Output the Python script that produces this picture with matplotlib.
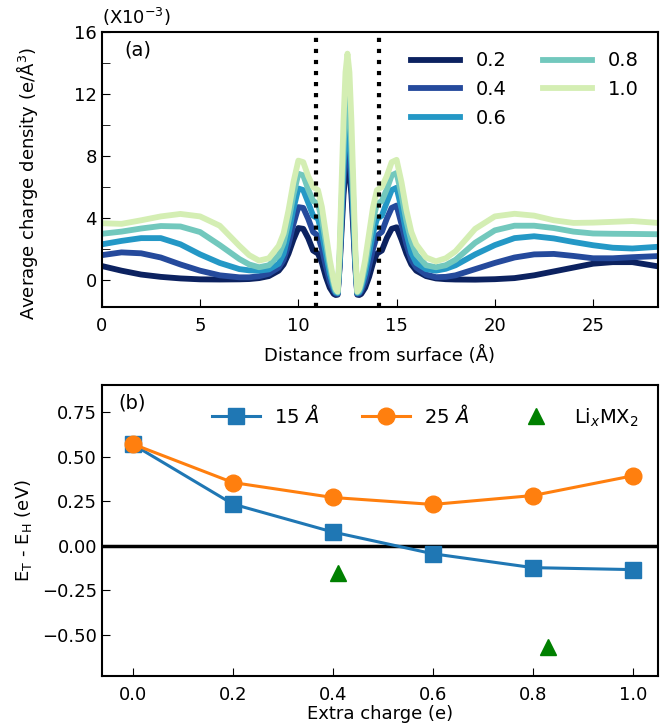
import matplotlib
matplotlib.use('Agg')
import matplotlib.pyplot as plt

# panel (a): average charge density vs distance (x 1e-3 e/A^3)
dist = [0, 1, 2, 3, 4, 5, 6, 7, 7.5, 8, 8.5, 9, 9.25, 9.5, 9.75, 10, 10.25, 10.5, 10.75, 11,
        11.2, 11.4, 11.6, 11.8, 11.9, 12, 12.1, 12.2, 12.3, 12.4, 12.5, 12.6, 12.7, 12.8, 12.9, 13,
        13.1, 13.2, 13.4, 13.6, 13.8, 14, 14.25, 14.5, 14.75, 15, 15.25, 15.5, 15.75, 16, 16.5, 17,
        17.5, 18, 19, 20, 21, 22, 23, 24, 25, 26, 27, 28.3]

rho_02 = [0.9, 0.6, 0.35, 0.2, 0.1, 0.04, 0.03, 0.04, 0.06, 0.12, 0.25, 0.6, 1.0, 1.7, 2.6, 3.35, 3.3, 2.7, 1.9, 1.7,
          1.1, 0.2, -0.5, -0.9, -0.97, -0.95, 0.8, 3.2, 5.5, 7.0, 7.5, 7.0, 5.5, 3.2, 0.8, -0.95,
          -0.97, -0.9, -0.5, 0.2, 1.1, 1.7, 1.9, 2.7, 3.3, 3.4, 2.6, 1.7, 1.0, 0.6, 0.25, 0.1,
          0.05, 0.03, 0.02, 0.05, 0.12, 0.3, 0.55, 0.8, 1.05, 1.15, 1.15, 0.88]
rho_04 = [1.6, 1.78, 1.72, 1.45, 1.0, 0.6, 0.3, 0.17, 0.17, 0.24, 0.4, 0.8, 1.3, 2.3, 3.6, 4.7, 4.65, 3.95, 3.1, 2.85,
          2.0, 0.9, -0.1, -0.7, -0.88, -0.9, 1.0, 3.7, 6.3, 8.2, 8.8, 8.2, 6.3, 3.7, 1.0, -0.9,
          -0.88, -0.7, -0.1, 0.9, 2.0, 2.85, 3.1, 3.95, 4.65, 4.8, 3.6, 2.3, 1.3, 0.8, 0.35, 0.18,
          0.2, 0.3, 0.7, 1.1, 1.45, 1.65, 1.68, 1.55, 1.4, 1.4, 1.47, 1.54]
rho_06 = [2.3, 2.52, 2.7, 2.7, 2.3, 1.65, 1.1, 0.7, 0.62, 0.6, 0.68, 1.05, 1.7, 3.0, 4.6, 5.9, 5.8, 5.0, 4.15, 3.95,
          3.0, 1.7, 0.4, -0.5, -0.8, -0.85, 1.2, 4.3, 7.3, 9.3, 10.0, 9.3, 7.3, 4.3, 1.2, -0.85,
          -0.8, -0.5, 0.4, 1.7, 3.0, 3.95, 4.15, 5.0, 5.8, 5.95, 4.6, 3.0, 1.75, 1.1, 0.7, 0.6,
          0.72, 0.95, 1.65, 2.25, 2.7, 2.82, 2.68, 2.45, 2.24, 2.08, 2.03, 2.14]
rho_08 = [2.98, 3.12, 3.32, 3.48, 3.45, 3.09, 2.25, 1.35, 1.0, 0.82, 0.95, 1.6, 2.4, 3.8, 5.5, 6.85, 6.75, 5.85, 5.1, 4.9,
          3.9, 2.4, 0.9, -0.3, -0.7, -0.8, 1.5, 5.0, 8.5, 11.0, 11.9, 11.0, 8.5, 5.0, 1.5, -0.8,
          -0.7, -0.3, 0.9, 2.4, 3.9, 4.9, 5.1, 5.85, 6.75, 6.9, 5.5, 3.8, 2.5, 1.65, 0.95, 0.82,
          0.95, 1.3, 2.4, 3.2, 3.5, 3.5, 3.35, 3.12, 3.0, 2.98, 2.97, 2.95]
rho_10 = [3.66, 3.62, 3.85, 4.1, 4.26, 4.1, 3.5, 2.2, 1.6, 1.25, 1.4, 2.2, 3.0, 4.5, 6.3, 7.7, 7.6, 6.7, 6.0, 5.8,
          4.7, 3.0, 1.3, -0.05, -0.55, -0.75, 2.0, 6.2, 10.3, 13.4, 14.6, 13.4, 10.3, 6.2, 2.0, -0.75,
          -0.55, -0.05, 1.3, 3.0, 4.7, 5.8, 6.0, 6.7, 7.6, 7.75, 6.3, 4.5, 3.1, 2.3, 1.45, 1.2,
          1.4, 1.85, 3.3, 4.1, 4.27, 4.15, 3.85, 3.68, 3.7, 3.75, 3.8, 3.68]

curves = [rho_02, rho_04, rho_06, rho_08, rho_10]
charge_labels = ['0.2', '0.4', '0.6', '0.8', '1.0']
curve_colors = ['#0c2260', '#254a9c', '#2498c6', '#72c8bd', '#d4eeb3']
slab_edges = [10.9, 14.1]

# panel (b): energy difference vs extra charge
extra_charge = [0.0, 0.2, 0.4, 0.6, 0.8, 1.0]
de_15 = [0.57, 0.235, 0.078, -0.044, -0.122, -0.133]
de_25 = [0.572, 0.356, 0.272, 0.233, 0.283, 0.394]
li_charge = [0.41, 0.83]
de_li = [-0.15, -0.567]

plt.rcParams['font.size'] = 13
plt.rcParams['xtick.direction'] = 'in'
plt.rcParams['ytick.direction'] = 'in'
plt.rcParams['xtick.major.size'] = 6
plt.rcParams['ytick.major.size'] = 6
plt.rcParams['ytick.minor.size'] = 6
plt.rcParams['xtick.major.pad'] = 7
plt.rcParams['axes.linewidth'] = 1.5

fig = plt.figure(figsize=(6.70, 7.26), dpi=100)
ax1 = fig.add_axes([0.152, 0.577, 0.830, 0.379])
ax2 = fig.add_axes([0.152, 0.069, 0.830, 0.401])

for rho, lab, col in zip(curves, charge_labels, curve_colors):
    ax1.plot(dist, rho, color=col, lw=4.2, label=lab)
for xe in slab_edges:
    ax1.axvline(xe, color='k', ls=':', lw=3, zorder=5)

ax1.set_xlim(0, 28.3)
ax1.set_ylim(-1.75, 16)
ax1.set_yticks([0, 4, 8, 12, 16])
ax1.set_yticks([2, 6, 10, 14], minor=True)
ax1.set_xticks([0, 5, 10, 15, 20, 25])
ax1.set_xlabel('Distance from surface (Å)', labelpad=8)
ax1.set_ylabel('Average charge density (e/Å$^3$)')
ax1.yaxis.set_label_coords(-0.112, 0.45)
ax1.text(0.0, 1.015, '(X10$^{-3}$)', transform=ax1.transAxes, ha='left', va='bottom')
ax1.text(0.04, 0.97, '(a)', transform=ax1.transAxes, ha='left', va='top', fontsize=14)
ax1.legend(ncol=2, loc='upper right', frameon=False, handlelength=2.5,
           columnspacing=1.9, borderaxespad=0.6, fontsize=14)

ax2.plot(extra_charge, de_15, '-s', color='#1f77b4', lw=2.2, ms=12, label='15 $\\AA$')
ax2.plot(extra_charge, de_25, '-o', color='#ff7f0e', lw=2.2, ms=12, label='25 $\\AA$')
ax2.plot(li_charge, de_li, '^', color='green', ms=11, ls='none', label='Li$_x$MX$_2$')
ax2.axhline(0, color='k', lw=2.5, zorder=0)

ax2.set_xlim(-0.062, 1.05)
ax2.set_ylim(-0.73, 0.905)
ax2.set_xticks([0.0, 0.2, 0.4, 0.6, 0.8, 1.0])
ax2.set_yticks([-0.5, -0.25, 0.0, 0.25, 0.5, 0.75])
ax2.set_xlabel('Extra charge (e)', labelpad=1)
ax2.set_ylabel('E$_\\mathrm{T}$ - E$_\\mathrm{H}$ (eV)')
ax2.yaxis.set_label_coords(-0.122, 0.5)
ax2.text(0.03, 0.97, '(b)', transform=ax2.transAxes, ha='left', va='top', fontsize=14)
ax2.legend(ncol=3, loc='upper right', frameon=False, handlelength=2.5,
           columnspacing=2.2, handletextpad=0.7, borderaxespad=0.6, fontsize=14)

fig.savefig('out.png', dpi=100)
